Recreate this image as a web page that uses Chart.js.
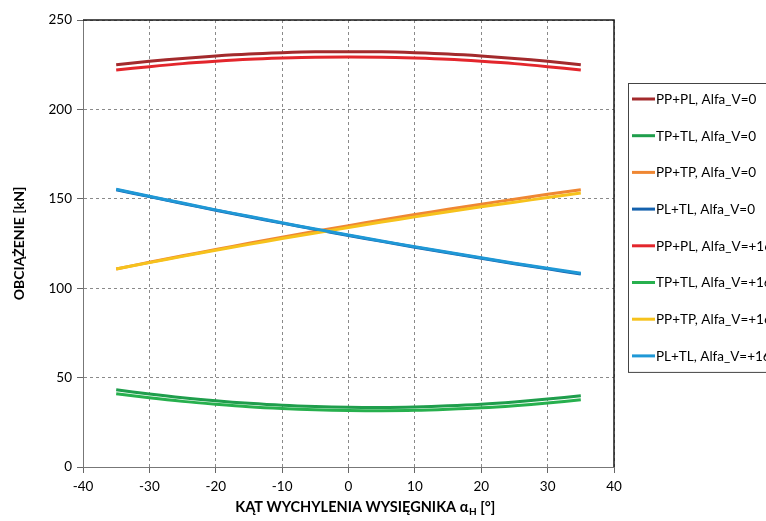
<!DOCTYPE html>
<html>
<head>
<meta charset="utf-8">
<script src="https://cdn.jsdelivr.net/npm/chart.js@4"></script>
<style>
html,body{margin:0;padding:0;background:#fff;overflow:hidden;}
canvas{display:block;}
</style>
</head>
<body>
<canvas id="c" width="766" height="521"></canvas>
<script>
// ---- data ----
const angles = [-35,-30,-25,-20,-15,-10,-5,0,5,10,15,20,25,30,35];
const ppPl0  = [225.0,226.9,228.5,229.9,231.0,231.7,232.2,232.3,232.2,231.7,231.0,229.9,228.5,226.9,225.0];
const tpTl0  = [43.2,40.8,38.7,37.0,35.6,34.5,33.8,33.4,33.3,33.6,34.2,35.1,36.4,38.0,39.9];
const ppTp0  = [110.7,114.5,118.1,121.6,125.1,128.5,131.8,135.0,138.1,141.2,144.1,147.0,149.8,152.5,155.1];
const plTl0  = [155.1,151.2,147.4,143.6,140.0,136.4,132.9,129.5,126.2,122.9,119.8,116.7,113.7,110.8,107.9];
const ppPl16 = [222.0,223.9,225.6,226.9,228.0,228.7,229.2,229.3,229.2,228.7,228.0,226.9,225.6,223.9,222.0];
const tpTl16 = [41.0,38.7,36.7,35.1,33.7,32.7,32.0,31.6,31.5,31.7,32.3,33.1,34.3,35.8,37.6];
const ppTp16 = [110.7,114.3,117.8,121.2,124.5,127.8,130.9,134.0,137.0,139.9,142.7,145.5,148.1,150.7,153.2];
const plTl16 = [155.3,151.4,147.6,143.8,140.2,136.6,133.1,129.7,126.4,123.2,120.1,117.0,114.0,111.2,108.4];

const seriesLabels = ["PP+PL, Alfa_V=0","TP+TL, Alfa_V=0","PP+TP, Alfa_V=0","PL+TL, Alfa_V=0",
                      "PP+PL, Alfa_V=+16","TP+TL, Alfa_V=+16","PP+TP, Alfa_V=+16","PL+TL, Alfa_V=+16"];
const seriesValues = [ppPl0, tpTl0, ppTp0, plTl0, ppPl16, tpTl16, ppTp16, plTl16];
const seriesColors = ["#a32a2c","#1f9e4c","#ef8733","#1461ad","#e3262c","#27b04e","#f6c21c","#1f98d6"];

const xTickLabels = [-40,-30,-20,-10,0,10,20,30,40];
const yTickLabels = [0,50,100,150,200,250];
const xTitle = ["KĄT WYCHYLENIA WYSIĘGNIKA α", "H", " [°]"];
const yTitle = "OBCIĄŻENIE [kN]";

const FONT = "Lato, 'DejaVu Sans', sans-serif";

const datasets = seriesValues.map((vals, i) => ({
  label: seriesLabels[i],
  data: angles.map((a, k) => ({x: a, y: vals[k]})),
  borderColor: seriesColors[i],
  backgroundColor: seriesColors[i],
  borderWidth: 3,
  pointRadius: 0,
  tension: 0.3,
  fill: false,
  order: 8 - i
}));

const extras = {
  id: 'extras',
  afterDraw(chart) {
    const ctx = chart.ctx;
    const a = chart.chartArea;
    ctx.save();
    // frame top & right
    ctx.strokeStyle = '#1a1a1a';
    ctx.lineWidth = 1.5;
    ctx.beginPath();
    ctx.moveTo(a.left, a.top);
    ctx.lineTo(a.right, a.top);
    ctx.lineTo(a.right, a.bottom);
    ctx.stroke();
    // y title
    ctx.fillStyle = '#000';
    ctx.font = "bold 14px " + FONT;
    ctx.textAlign = 'center';
    ctx.textBaseline = 'middle';
    ctx.save();
    ctx.translate(19, (a.top + a.bottom) / 2);
    ctx.rotate(-Math.PI / 2);
    ctx.fillText(yTitle, 0, 0);
    ctx.restore();
    // x title with subscript
    ctx.textAlign = 'left';
    ctx.textBaseline = 'alphabetic';
    const f1 = "bold 14.5px " + FONT, f2 = "bold 10px " + FONT;
    ctx.font = f1; const w1 = ctx.measureText(xTitle[0]).width;
    ctx.font = f2; const w2 = ctx.measureText(xTitle[1]).width;
    ctx.font = f1; const w3 = ctx.measureText(xTitle[2]).width;
    let x0 = 365 - (w1 + w2 + w3) / 2;
    const yb = 512;
    ctx.font = f1; ctx.fillText(xTitle[0], x0, yb);
    ctx.font = f2; ctx.fillText(xTitle[1], x0 + w1 + 0.5, yb + 3);
    ctx.font = f1; ctx.fillText(xTitle[2], x0 + w1 + w2 + 0.5, yb);
    // legend
    const lx = 628, ly = 83, lw = 200, step = 36.7, pad = 16;
    const lh = pad * 2 + step * (seriesLabels.length - 1);
    ctx.fillStyle = '#fff';
    ctx.fillRect(lx, ly, lw, lh);
    ctx.strokeStyle = '#444';
    ctx.lineWidth = 1;
    ctx.strokeRect(lx + 0.5, ly + 0.5, lw, lh);
    ctx.font = "13.5px " + FONT;
    ctx.textBaseline = 'middle';
    seriesLabels.forEach((lab, i) => {
      const y = ly + pad + i * step;
      ctx.strokeStyle = seriesColors[i];
      ctx.lineWidth = 3;
      ctx.beginPath();
      ctx.moveTo(632, y);
      ctx.lineTo(655, y);
      ctx.stroke();
      ctx.fillStyle = '#000';
      ctx.fillText(lab, 656, y + 0.5);
    });
    ctx.restore();
  }
};

new Chart(document.getElementById('c'), {
  type: 'line',
  data: { datasets },
  options: {
    responsive: false,
    animation: false,
    layout: { padding: { left: 0, right: 152, top: 20, bottom: 0 } },
    plugins: { legend: { display: false }, tooltip: { enabled: false }, title: { display: false } },
    scales: {
      x: {
        type: 'linear',
        min: -40, max: 40,
        afterBuildTicks(scale) { scale.ticks = xTickLabels.map(v => ({value: v})); },
        afterFit(scale) { scale.height = 54; },
        ticks: { color: '#000', font: { family: FONT, size: 13.5 }, padding: 6, maxRotation: 0 },
        grid: { color: '#8a8a8a', lineWidth: 1, tickLength: 6, tickColor: '#666', tickBorderDash: [] },
        border: { color: '#777', width: 1, dash: [3, 3] }
      },
      y: {
        type: 'linear',
        min: 0, max: 250,
        afterBuildTicks(scale) { scale.ticks = yTickLabels.map(v => ({value: v})); },
        afterFit(scale) { scale.width = 83; },
        ticks: { color: '#000', font: { family: FONT, size: 13.5 }, padding: 5 },
        grid: { color: '#8a8a8a', lineWidth: 1, tickLength: 6, tickColor: '#666', tickBorderDash: [] },
        border: { color: '#777', width: 1, dash: [3, 3] }
      }
    }
  },
  plugins: [extras]
});
</script>
</body>
</html>
